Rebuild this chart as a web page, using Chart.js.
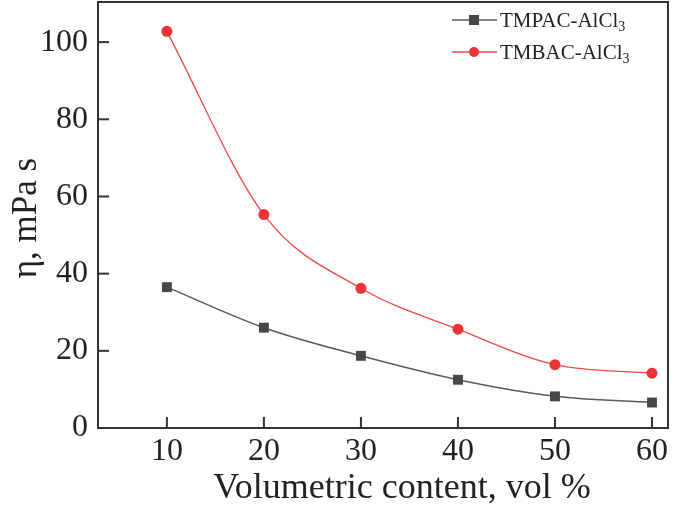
<!DOCTYPE html>
<html lang="en">
  <head>
    <meta charset="UTF-8" />
    <title>Viscosity vs volumetric content</title>
    <script src="https://cdn.jsdelivr.net/npm/chart.js"></script>
    <style>
      body {
        margin: 0;
        background: #fff;
      }
      .wrap {
        width: 685px;
        height: 514px;
        position: relative;
      }
    </style>
  </head>
  <body>
    <div class="wrap">
      <canvas id="viscChart"></canvas>
    </div>

    <script>
      // data
      const volContent = [10, 20, 30, 40, 50, 60];
      const tmpacVisc = [36.5, 26, 18.7, 12.5, 8.2, 6.6];
      const tmbacVisc = [102.8, 55.3, 36.2, 25.6, 16.4, 14.2];
      const xTicks = [10, 20, 30, 40, 50, 60];
      const yTicks = [0, 20, 40, 60, 80, 100];
      const seriesNames = ["TMPAC-AlCl", "TMBAC-AlCl"];

      const serif = "'Liberation Serif', 'Times New Roman', serif";

      // frame + inward tick marks
      const framePlugin = {
        id: "frame",
        afterDraw(chart) {
          const { ctx, chartArea: a, scales } = chart;
          ctx.save();
          ctx.strokeStyle = "#333";
          ctx.lineWidth = 2;
          ctx.strokeRect(a.left, a.top, a.right - a.left, a.bottom - a.top);
          xTicks.forEach((v) => {
            const x = scales.x.getPixelForValue(v);
            ctx.beginPath();
            ctx.moveTo(x, a.bottom);
            ctx.lineTo(x, a.bottom - 11);
            ctx.stroke();
          });
          yTicks.forEach((v) => {
            const y = scales.y.getPixelForValue(v);
            ctx.beginPath();
            ctx.moveTo(a.left, y);
            ctx.lineTo(a.left + 11, y);
            ctx.stroke();
          });
          ctx.restore();
        },
      };

      // axis titles + legend with subscripts
      const textPlugin = {
        id: "texts",
        afterDraw(chart) {
          const { ctx } = chart;
          ctx.save();
          ctx.fillStyle = "#222";
          ctx.font = "36px " + serif;
          ctx.textAlign = "center";
          ctx.textBaseline = "alphabetic";
          ctx.fillText("Volumetric content, vol %", 402, 498);

          ctx.translate(36, 218);
          ctx.rotate(-Math.PI / 2);
          ctx.font = "35px " + serif;
          ctx.fillText("η, mPa s", 0, 0);
          ctx.restore();

          // legend
          ctx.save();
          chart.data.datasets.forEach((ds, i) => {
            const y = 20 + i * 32;
            ctx.strokeStyle = ds.borderColor;
            ctx.lineWidth = 1.5;
            ctx.beginPath();
            ctx.moveTo(452, y);
            ctx.lineTo(497, y);
            ctx.stroke();
            ctx.fillStyle = ds.pointBackgroundColor;
            if (ds.pointStyle === "rect") {
              ctx.fillRect(469, y - 5, 10, 10);
            } else {
              ctx.beginPath();
              ctx.arc(474, y, 5, 0, Math.PI * 2);
              ctx.fill();
            }
            ctx.fillStyle = "#222";
            ctx.textAlign = "left";
            ctx.textBaseline = "alphabetic";
            ctx.font = "21px " + serif;
            ctx.fillText(seriesNames[i], 500, y + 7);
            const w = ctx.measureText(seriesNames[i]).width;
            ctx.font = "14px " + serif;
            ctx.fillText("3", 500 + w, y + 11);
          });
          ctx.restore();
        },
      };

      const ctx = document.getElementById("viscChart").getContext("2d");

      const viscChart = new Chart(ctx, {
        type: "line",
        data: {
          datasets: [
            {
              label: "TMPAC-AlCl3",
              data: volContent.map((x, i) => ({ x: x, y: tmpacVisc[i] })),
              borderColor: "#5a5a5a",
              borderWidth: 1.5,
              pointStyle: "rect",
              pointRadius: 7,
              pointBackgroundColor: "#474747",
              pointBorderWidth: 0,
              cubicInterpolationMode: "monotone",
            },
            {
              label: "TMBAC-AlCl3",
              data: volContent.map((x, i) => ({ x: x, y: tmbacVisc[i] })),
              borderColor: "#f04848",
              borderWidth: 1.3,
              pointStyle: "circle",
              pointRadius: 5.5,
              pointBackgroundColor: "#ec3338",
              pointBorderWidth: 0,
              cubicInterpolationMode: "monotone",
            },
          ],
        },
        options: {
          responsive: true,
          maintainAspectRatio: false,
          animation: false,
          layout: {
            autoPadding: false,
            padding: { top: 2, right: 17, left: 0, bottom: 0 },
          },
          plugins: {
            legend: { display: false },
            tooltip: { enabled: false },
          },
          scales: {
            x: {
              type: "linear",
              min: 2.9,
              max: 61.65,
              afterBuildTicks: (s) => {
                s.ticks = xTicks.map((v) => ({ value: v }));
              },
              afterFit: (s) => {
                s.height = 86;
                s.paddingLeft = 0;
                s.paddingRight = 0;
              },
              grid: { display: false, drawTicks: false },
              border: { display: false },
              ticks: {
                padding: 4,
                color: "#222",
                font: { family: serif, size: 32 },
              },
            },
            y: {
              min: 0,
              max: 110.4,
              afterBuildTicks: (s) => {
                s.ticks = yTicks.map((v) => ({ value: v }));
              },
              afterFit: (s) => {
                s.width = 98;
                s.paddingTop = 0;
                s.paddingBottom = 0;
              },
              grid: { display: false, drawTicks: false },
              border: { display: false },
              ticks: {
                padding: 10,
                color: "#222",
                font: { family: serif, size: 32 },
              },
            },
          },
        },
        plugins: [framePlugin, textPlugin],
      });
    </script>
  </body>
</html>
